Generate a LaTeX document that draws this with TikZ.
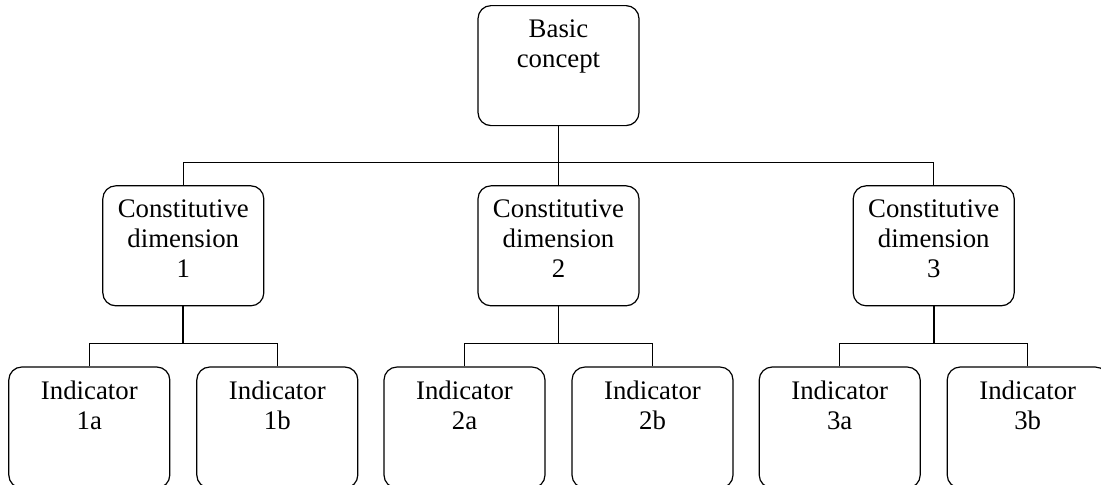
\documentclass[tikz,border=0pt]{standalone}
\usepackage{fontspec}
\setmainfont{Liberation Serif}
\usetikzlibrary{positioning}

\begin{document}
\begin{tikzpicture}[x=0.5pt, y=-0.5pt,
		box/.style={draw, line width=0.6pt, rounded corners=6.5pt, minimum width=80.5pt, minimum height=60pt, inner sep=0pt},
		lbl/.style={anchor=north, align=center, inner xsep=0pt, inner ysep=7pt, font=\fontsize{13.4}{15}\selectfont},
		stem/.style={line width=0.95pt},
		wire/.style={line width=0.6pt}]
		\useasboundingbox (0,0) rectangle (1101,484);
		\node[box, anchor=north, label={[lbl]north:Basic\\concept}] (basic) at (558.5,5) {};
		
		\node[box, below=29.5pt of basic, label={[lbl]north:Constitutive\\dimension\\2}] (dim2) {};
		\node[box, left=106.5pt of dim2, label={[lbl]north:Constitutive\\dimension\\1}] (dim1) {};
		\node[box, right=106.5pt of dim2, label={[lbl]north:Constitutive\\dimension\\3}] (dim3) {};
		
		\node[box, minimum height=60.5pt, below=30pt of dim1, xshift=-47pt, label={[lbl]north:Indicator\\1a}] (ind1a) {};
		\node[box, minimum height=60.5pt, below=30pt of dim1, xshift=47pt, label={[lbl]north:Indicator\\1b}] (ind1b) {};
		\node[box, minimum height=60.5pt, below=30pt of dim2, xshift=-47pt, label={[lbl]north:Indicator\\2a}] (ind2a) {};
		\node[box, minimum height=60.5pt, below=30pt of dim2, xshift=47pt, label={[lbl]north:Indicator\\2b}] (ind2b) {};
		\node[box, minimum height=60.5pt, below=30pt of dim3, xshift=-47pt, label={[lbl]north:Indicator\\3a}] (ind3a) {};
		\node[box, minimum height=60.5pt, below=30pt of dim3, xshift=47pt, label={[lbl]north:Indicator\\3b}] (ind3b) {};
		
		% branch points
		\coordinate[below=18pt of basic] (bus0);
		\coordinate[below=18.5pt of dim1] (bus1);
		\coordinate[below=18.5pt of dim2] (bus2);
		\coordinate[below=18.5pt of dim3] (bus3);
		
		\draw[stem] (basic) -- (bus0);
		\draw[wire] (dim1.north) |- (bus0) -| (dim3.north);
		\draw[wire] (bus0) -- (dim2);
		
		\draw[stem] (dim1) -- (bus1);
		\draw[wire] (ind1a.north) |- (bus1) -| (ind1b.north);
		\draw[stem] (dim2) -- (bus2);
		\draw[wire] (ind2a.north) |- (bus2) -| (ind2b.north);
		\draw[stem] (dim3) -- (bus3);
		\draw[wire] (ind3a.north) |- (bus3) -| (ind3b.north);
	\end{tikzpicture}
\end{document}
